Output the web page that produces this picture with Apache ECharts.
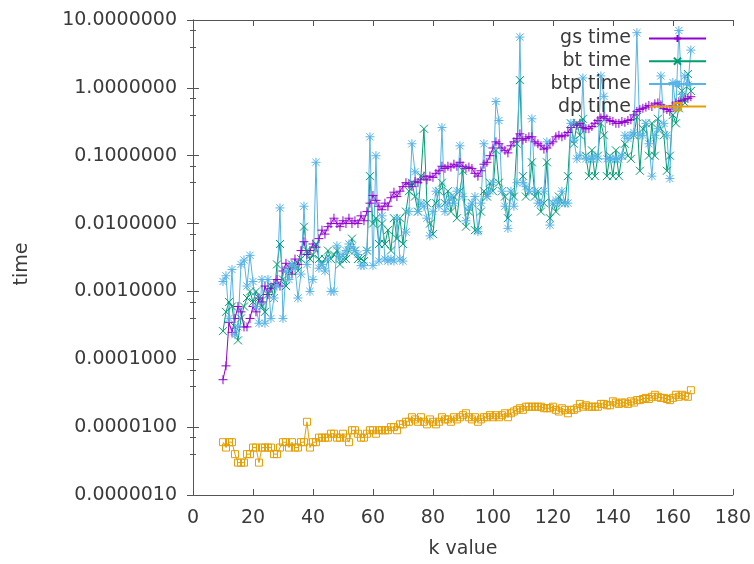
<!DOCTYPE html>
<html>
<head>
<meta charset="utf-8">
<script src="https://cdn.jsdelivr.net/npm/echarts@6/dist/echarts.min.js"></script>
<style>
html, body { margin: 0; padding: 0; background: #fff; }
#chart { width: 754px; height: 564px; }
</style>
</head>
<body>
<div id="chart"></div>
<script>
var kValues = [
	10, 11, 12, 13, 14, 15, 16, 17, 18, 19,
	20, 21, 22, 23, 24, 25, 26, 27, 28, 29,
	30, 31, 32, 33, 34, 35, 36, 37, 38, 39,
	40, 41, 42, 43, 44, 45, 46, 47, 48, 49,
	50, 51, 52, 53, 54, 55, 56, 57, 58, 59,
	60, 61, 62, 63, 64, 65, 66, 67, 68, 69,
	70, 71, 72, 73, 74, 75, 76, 77, 78, 79,
	80, 81, 82, 83, 84, 85, 86, 87, 88, 89,
	90, 91, 92, 93, 94, 95, 96, 97, 98, 99,
	100, 101, 102, 103, 104, 105, 106, 107, 108, 109,
	110, 111, 112, 113, 114, 115, 116, 117, 118, 119,
	120, 121, 122, 123, 124, 125, 126, 127, 128, 129,
	130, 131, 132, 133, 134, 135, 136, 137, 138, 139,
	140, 141, 142, 143, 144, 145, 146, 147, 148, 149,
	150, 151, 152, 153, 154, 155, 156, 157, 158, 159,
	160, 161, 162, 163, 164, 165, 166 ];

var gsTime = [
	5e-5, 8e-5, 3.5e-4, 2.5e-4, 4e-4, 6e-4, 5e-4, 3e-4, 3e-4, 4e-4,
	6e-4, 5e-4, 8e-4, 7e-4, 1.2e-3, 9e-4, 1.1e-3, 1.3e-3, 1.5e-3, 1.2e-3,
	2e-3, 2.6e-3, 2.2e-3, 1.8e-3, 3e-3, 2.5e-3, 4e-3, 5.4e-3, 3.5e-3, 4e-3,
	5e-3, 4.5e-3, 6e-3, 8e-3, 7e-3, 9e-3, 1e-2, 1.2e-2, 1e-2, 9e-3,
	1.1e-2, 1e-2, 1.2e-2, 1e-2, 1.1e-2, 1e-2, 1.3e-2, 1.1e-2, 1.5e-2, 2e-2,
	2.6e-2, 2.2e-2, 1.8e-2, 1.6e-2, 2e-2, 1.8e-2, 2.4e-2, 2.9e-2, 2.5e-2, 3e-2,
	3.5e-2, 4e-2, 3.8e-2, 3.5e-2, 4.2e-2, 4e-2, 4.5e-2, 5e-2, 4.4e-2, 5e-2,
	4.8e-2, 5.5e-2, 6e-2, 7e-2, 6.5e-2, 7e-2, 6.8e-2, 7.5e-2, 7e-2, 8e-2,
	7e-2, 6.5e-2, 6.8e-2, 6.5e-2, 5.5e-2, 5e-2, 6e-2, 7.5e-2, 8e-2, 0.1,
	0.13, 0.16, 0.15, 0.13, 0.12, 0.11, 0.14, 0.16, 0.18, 0.21,
	0.17, 0.18, 0.19, 0.19, 0.16, 0.15, 0.14, 0.125, 0.13, 0.15,
	0.16, 0.19, 0.2, 0.19, 0.2, 0.22, 0.26, 0.3, 0.28, 0.3,
	0.26, 0.25, 0.25, 0.27, 0.3, 0.33, 0.36, 0.38, 0.35, 0.33,
	0.32, 0.3, 0.3, 0.32, 0.31, 0.33, 0.34, 0.4, 0.45, 0.48,
	0.5, 0.52, 0.55, 0.53, 0.58, 0.6, 0.56, 0.5, 0.48, 0.45,
	0.55, 0.6, 0.62, 0.65, 0.68, 0.7, 0.74 ];

var btTime = [
	2.6e-4, 5e-4, 7e-4, 6e-4, 3e-4, 1.9e-4, 4e-4, 6e-4, 8e-4, 1e-3,
	7e-4, 1e-3, 8e-4, 6e-4, 5e-4, 9e-4, 1.2e-3, 8e-4, 2.5e-3, 5e-3,
	1.5e-3, 1.2e-3, 2e-3, 2.5e-3, 2.5e-3, 2e-3, 3e-3, 9e-3, 4e-3, 3e-3,
	3.5e-3, 5e-3, 3e-3, 2.5e-3, 3e-3, 4e-3, 3e-3, 3.5e-3, 4e-3, 2.5e-3,
	3e-3, 3e-3, 4e-3, 6e-3, 4e-3, 3e-3, 3e-3, 2.8e-3, 4e-3, 5e-2,
	1e-2, 1.2e-2, 5e-3, 1e-2, 5e-3, 8e-3, 4e-3, 1.2e-2, 6e-3, 1.2e-2,
	5e-3, 1.5e-2, 3e-2, 4e-2, 2.5e-2, 1.5e-2, 5e-2, 0.25, 2e-2, 1e-2,
	7e-3, 2e-2, 3e-2, 4e-2, 2e-2, 3e-2, 1.5e-2, 2.5e-2, 1.2e-2, 3e-2,
	6e-2, 9e-3, 1.5e-2, 2e-2, 8e-3, 8e-3, 1.5e-2, 3e-2, 2.5e-2, 4e-2,
	3e-2, 0.12, 4e-2, 3e-2, 2.5e-2, 1.2e-2, 3e-2, 2.5e-2, 0.15, 1.3,
	5e-2, 2.5e-2, 3e-2, 8e-2, 2.5e-2, 3e-2, 1.5e-2, 2e-2, 8e-2, 1.2e-2,
	2e-2, 1.5e-2, 2.5e-2, 2e-2, 2e-2, 5e-2, 0.3, 0.15, 0.3, 0.2,
	0.35, 0.1, 5e-2, 0.12, 5e-2, 0.1, 0.3, 0.2, 5e-2, 0.1,
	5e-2, 0.12, 5e-2, 0.1, 0.15, 0.1, 9e-2, 0.2, 0.37, 6e-2,
	0.25, 0.3, 0.1, 0.3, 0.1, 0.35, 0.25, 0.2, 6e-2, 0.1,
	0.4, 0.3, 0.5, 0.9, 0.6, 1.6, 0.9 ];

var btpTime = [
	1.4e-3, 1.7e-3, 4e-4, 2.1e-3, 2.3e-4, 3e-4, 2.5e-3, 2.9e-3, 1.2e-3, 3.4e-3,
	1.4e-3, 6e-4, 3.4e-4, 1.5e-3, 3.4e-4, 1.5e-3, 4e-4, 8e-4, 1.2e-3, 1.7e-2,
	4e-4, 2e-3, 1.5e-3, 2.5e-3, 2.2e-3, 8e-4, 1.8e-3, 1.8e-2, 2.5e-3, 1e-3,
	1.5e-3, 8e-2, 2.2e-3, 2.5e-3, 2e-3, 3e-3, 1e-3, 1e-3, 4.7e-3, 3e-3,
	3.5e-3, 4e-3, 5e-3, 4.5e-3, 4e-3, 3.5e-3, 2.4e-3, 2.4e-3, 4e-3, 0.19,
	2.4e-3, 0.1, 2.8e-3, 1.3e-2, 3e-3, 2.8e-3, 3e-3, 2.8e-3, 1.2e-2, 3e-3,
	2.8e-3, 7.5e-3, 1.5e-2, 0.15, 5.8e-2, 1.5e-2, 2e-2, 1.8e-2, 1.2e-2, 6.6e-3,
	1.5e-2, 3e-2, 1.8e-2, 0.26, 1.5e-2, 2e-2, 2.5e-2, 2e-2, 3e-2, 0.14,
	2.5e-2, 1.1e-2, 1.7e-2, 2e-2, 2.5e-2, 7.6e-3, 2e-2, 0.15, 2.5e-2, 3e-2,
	4e-2, 0.63, 0.33, 3e-2, 1.8e-2, 8.5e-3, 3e-2, 1.8e-2, 4e-2, 5.6,
	4e-2, 3.5e-2, 3e-2, 0.35, 3e-2, 2e-2, 2e-2, 3e-2, 0.16, 9.5e-3,
	2e-2, 2.2e-2, 2e-2, 3e-2, 2e-2, 2e-2, 0.3, 0.17, 9e-2, 0.1,
	1.4, 9e-2, 9e-2, 9e-2, 0.1, 9e-2, 1.5, 0.75, 9e-2, 9e-2,
	9e-2, 9e-2, 9e-2, 0.1, 0.2, 0.18, 0.2, 0.22, 6.5, 0.2,
	0.2, 0.3, 0.15, 5e-2, 0.2, 0.25, 1.5, 0.3, 0.2, 4.6e-2,
	1.2, 0.5, 7, 0.8, 1.5, 1.1, 3.6 ];

var dpTime = [
	6e-6, 5e-6, 6e-6, 6e-6, 4e-6, 3e-6, 3e-6, 3e-6, 4e-6, 4e-6,
	5e-6, 5e-6, 3e-6, 5e-6, 5e-6, 5e-6, 5e-6, 4e-6, 4e-6, 5e-6,
	6e-6, 6e-6, 5e-6, 6e-6, 5e-6, 5e-6, 6e-6, 6e-6, 1.2e-5, 5e-6,
	6e-6, 6e-6, 7e-6, 7e-6, 7e-6, 7e-6, 8e-6, 8e-6, 7e-6, 7e-6,
	8e-6, 7e-6, 6e-6, 9e-6, 9e-6, 8e-6, 7e-6, 7e-6, 8e-6, 9e-6,
	9e-6, 8e-6, 9e-6, 9e-6, 9e-6, 9e-6, 1e-5, 1e-5, 9e-6, 1.1e-5,
	1.1e-5, 1.2e-5, 1.2e-5, 1.4e-5, 1.3e-5, 1.2e-5, 1.4e-5, 1.2e-5, 1.1e-5, 1.3e-5,
	1.2e-5, 1.1e-5, 1.2e-5, 1.4e-5, 1.3e-5, 1.3e-5, 1.2e-5, 1.4e-5, 1.3e-5, 1.4e-5,
	1.5e-5, 1.6e-5, 1.4e-5, 1.3e-5, 1.4e-5, 1.2e-5, 1.3e-5, 1.4e-5, 1.4e-5, 1.5e-5,
	1.4e-5, 1.5e-5, 1.4e-5, 1.5e-5, 1.6e-5, 1.4e-5, 1.6e-5, 1.7e-5, 1.8e-5, 1.9e-5,
	1.8e-5, 2e-5, 2e-5, 2e-5, 2e-5, 2e-5, 2e-5, 1.9e-5, 1.9e-5, 1.9e-5,
	2e-5, 1.8e-5, 1.7e-5, 1.9e-5, 1.8e-5, 1.6e-5, 1.8e-5, 1.8e-5, 1.9e-5, 2.2e-5,
	2e-5, 2.1e-5, 2e-5, 2e-5, 2e-5, 2e-5, 2.2e-5, 2.2e-5, 2.1e-5, 2.1e-5,
	2.4e-5, 2.3e-5, 2.2e-5, 2.3e-5, 2.3e-5, 2.2e-5, 2.4e-5, 2.3e-5, 2.5e-5, 2.5e-5,
	2.6e-5, 2.7e-5, 2.6e-5, 2.8e-5, 3e-5, 2.8e-5, 2.7e-5, 2.7e-5, 2.6e-5, 2.5e-5,
	2.7e-5, 3e-5, 2.8e-5, 3e-5, 2.9e-5, 2.8e-5, 3.5e-5 ];

var seriesNames = [ 'gs time', 'bt time', 'btp time', 'dp time' ];
var seriesColors = [ '#9400d3', '#009e73', '#56b4e9', '#e69f00' ];

var FONT = 'DejaVu Sans';
var FONT_SIZE = 19;
var TEXT_COLOR = '#3a3a3a';
var AXIS_COLOR = '#555555';

// gnuplot point types: + , x , * , open square
var plusSymbol = 'path://M5,0V10M0,5H10';
var crossSymbol = 'path://M0,0L10,10M10,0L0,10';
var starSymbol = 'path://M5,0V10M0,5H10M1,1L9,9M9,1L1,9';

function pairs(ys) {
	var out = [];
	for (var i = 0; i < ys.length; i++) {
		out.push([ kValues[i], ys[i] ]);
	}
	return out;
}

function makeSeries(idx, data, symbol, size) {
	return {
		name : seriesNames[idx],
		type : 'line',
		data : pairs(data),
		symbol : symbol,
		symbolSize : size,
		showAllSymbol : true,
		color : seriesColors[idx],
		lineStyle : {
			color : seriesColors[idx],
			width : 1
		},
		itemStyle : {
			color : 'transparent',
			borderColor : seriesColors[idx],
			borderWidth : 1
		},
		emphasis : {
			disabled : true
		}
	};
}

// one legend per row so the samples line up on the right like gnuplot's key
function makeLegend(idx) {
	return {
		data : [ seriesNames[idx] ],
		right : 42,
		top : 24 + idx * 22.7,
		orient : 'horizontal',
		align : 'right',
		itemWidth : 57,
		itemHeight : 9,
		selectedMode : false,
		textStyle : {
			fontFamily : FONT,
			fontSize : FONT_SIZE,
			color : TEXT_COLOR,
			padding : [ 0, 13, 0, 0 ]
		}
	};
}

var majorTicks = {
	inside : true,
	length : 6,
	lineStyle : {
		color : AXIS_COLOR
	}
};
var minorTicks = {
	show : true,
	splitNumber : 3,
	length : 3,
	lineStyle : {
		color : AXIS_COLOR
	}
};

var chart = echarts.init(document.getElementById('chart'), null, {
	renderer : 'canvas'
});

var option = {
	animation : false,
	backgroundColor : '#ffffff',
	grid : {
		left : 193,
		right : 18,
		top : 20,
		bottom : 67,
		containLabel : false
	},
	legend : [ makeLegend(0), makeLegend(1), makeLegend(2), makeLegend(3) ],
	graphic : [ {
		type : 'text',
		x : 22,
		y : 264,
		rotation : Math.PI / 2,
		style : {
			text : 'time',
			fontFamily : FONT,
			fontSize : FONT_SIZE,
			fill : TEXT_COLOR,
			align : 'center',
			verticalAlign : 'middle'
		}
	} ],
	xAxis : [ {
		type : 'value',
		min : 0,
		max : 180,
		interval : 20,
		position : 'bottom',
		name : 'k value',
		nameLocation : 'middle',
		nameGap : 45,
		nameTextStyle : {
			fontFamily : FONT,
			fontSize : FONT_SIZE,
			color : TEXT_COLOR
		},
		axisLine : {
			lineStyle : {
				color : AXIS_COLOR
			}
		},
		axisTick : majorTicks,
		axisLabel : {
			fontFamily : FONT,
			fontSize : FONT_SIZE,
			color : TEXT_COLOR,
			margin : 14
		},
		splitLine : {
			show : false
		}
	}, {
		type : 'value',
		min : 0,
		max : 180,
		interval : 20,
		position : 'top',
		axisLine : {
			lineStyle : {
				color : AXIS_COLOR
			}
		},
		axisTick : majorTicks,
		axisLabel : {
			show : false
		},
		splitLine : {
			show : false
		}
	} ],
	yAxis : [ {
		type : 'log',
		logBase : 10,
		min : 1e-6,
		max : 10,
		position : 'left',
		axisLine : {
			show : true,
			lineStyle : {
				color : AXIS_COLOR
			}
		},
		axisTick : majorTicks,
		minorTick : minorTicks,
		axisLabel : {
			fontFamily : FONT,
			fontSize : FONT_SIZE,
			color : TEXT_COLOR,
			margin : 16,
			formatter : function(v) {
				return v.toFixed(7);
			}
		},
		splitLine : {
			show : false
		}
	}, {
		type : 'log',
		logBase : 10,
		min : 1e-6,
		max : 10,
		position : 'right',
		axisLine : {
			show : true,
			lineStyle : {
				color : AXIS_COLOR
			}
		},
		axisTick : majorTicks,
		minorTick : minorTicks,
		axisLabel : {
			show : false
		},
		splitLine : {
			show : false
		}
	} ],
	series : [ makeSeries(0, gsTime, plusSymbol, 9),
			makeSeries(1, btTime, crossSymbol, 8),
			makeSeries(2, btpTime, starSymbol, 9),
			makeSeries(3, dpTime, 'rect', 7) ]
};

chart.setOption(option);
</script>
</body>
</html>
